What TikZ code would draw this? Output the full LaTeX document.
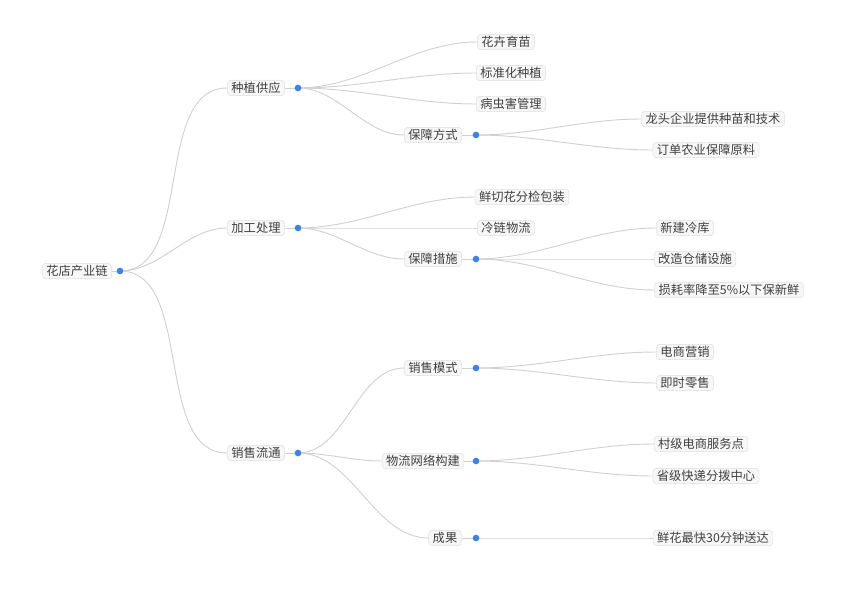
\documentclass[tikz,border=0pt]{standalone}
\usepackage{fontspec}
\setmainfont{Noto Sans CJK SC}
\definecolor{dotc}{HTML}{3B82F0}
\begin{document}
\begin{tikzpicture}[x=0.75pt,y=-0.75pt,
  lbl/.style={draw=black!12,fill=black!3,rounded corners=2.5pt,inner xsep=3pt,inner ysep=1.5pt,font=\fontsize{9.2pt}{10pt}\selectfont,text=black!75},
  dotn/.style={circle,fill=dotc,minimum size=5pt,inner sep=0pt},
  ln/.style={draw=black!18,line width=0.7pt}]
\useasboundingbox (0,0) rectangle (845,595);
\node[lbl] (r) at (77,271) {花店产业链};
\node[lbl] (a) at (256,88) {种植供应};
\node[lbl] (b) at (256,228) {加工处理};
\node[lbl] (c) at (256,453) {销售流通};
\node[lbl] (a1) at (506,42) {花卉育苗};
\node[lbl] (a2) at (511,73) {标准化种植};
\node[lbl] (a3) at (511,104) {病虫害管理};
\node[lbl] (a4) at (433,135) {保障方式};
\node[lbl] (a41) at (713,119) {龙头企业提供种苗和技术};
\node[lbl] (a42) at (706,150) {订单农业保障原料};
\node[lbl] (b1) at (522,197) {鲜切花分检包装};
\node[lbl] (b2) at (506,228) {冷链物流};
\node[lbl] (b3) at (433,259) {保障措施};
\node[lbl] (b31) at (685,228) {新建冷库};
\node[lbl] (b32) at (695,259) {改造仓储设施};
\node[lbl] (b33) at (729,290) {损耗率降至5\%以下保新鲜};
\node[lbl] (c1) at (433,368) {销售模式};
\node[lbl] (c2) at (423,461) {物流网络构建};
\node[lbl] (c3) at (445,538) {成果};
\node[lbl] (c11) at (685,352) {电商营销};
\node[lbl] (c12) at (685,383) {即时零售};
\node[lbl] (c21) at (701,444) {村级电商服务点};
\node[lbl] (c22) at (706,476) {省级快递分拨中心};
\node[lbl] (c31) at (713,538) {鲜花最快30分钟送达};
\coordinate (rd) at (120,271);
\coordinate (ad) at (298,88); \coordinate (bd) at (298,228); \coordinate (cd) at (298,453);
\coordinate (a4d) at (476,135); \coordinate (b3d) at (476,259);
\coordinate (c1d) at (476,368); \coordinate (c2d) at (476,461); \coordinate (c3d) at (476,538);
\foreach \p/\q in {r/rd,a/ad,b/bd,c/cd,a4/a4d,b3/b3d,c1/c1d,c2/c2d,c3/c3d}{\draw[ln] (\p.east) -- (\q);}
\foreach \p/\q in {rd/a,rd/b,rd/c,ad/a1,ad/a2,ad/a3,ad/a4,a4d/a41,a4d/a42,bd/b1,bd/b2,bd/b3,b3d/b31,b3d/b32,b3d/b33,cd/c1,cd/c2,cd/c3,c1d/c11,c1d/c12,c2d/c21,c2d/c22,c3d/c31}
  {\draw[ln] (\q) ++(0,0) (\p) to[out=0,in=180,looseness=0.9] (\q.west);}
\foreach \q in {rd,ad,bd,cd,a4d,b3d,c1d,c2d,c3d}{\node[dotn] at (\q) {};}
\end{tikzpicture}
\end{document}
